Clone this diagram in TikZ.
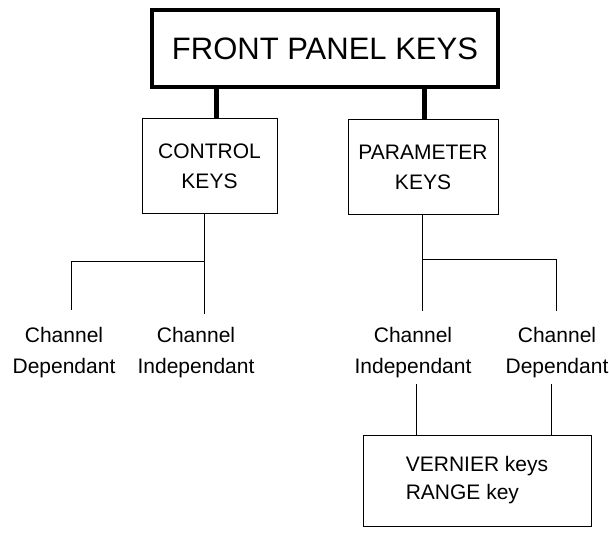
\documentclass[tikz,border=0pt]{standalone}
\usepackage{fontspec}
\setmainfont{Liberation Sans}
\begin{document}
\begin{tikzpicture}[x=1pt,y=-1pt,
	bigbox/.style={draw,line width=4.5pt,minimum width=346pt,minimum height=77pt,font=\fontsize{31}{36}\selectfont},
	keybox/.style={draw,line width=1pt,minimum height=95pt,align=center,font=\fontsize{21}{30}\selectfont},
	chlabel/.style={align=center,inner sep=0pt,font=\fontsize{21}{31}\selectfont},
	wire/.style={line width=1pt},
	heavy/.style={line width=5pt}]
	\useasboundingbox (0,0) rectangle (609,534);
	\node[bigbox] at (325,48.5) (front) {FRONT PANEL KEYS};
	\node[keybox,minimum width=135pt] at (209.5,166) (ctrl) {CONTROL\\KEYS};
	\node[keybox,minimum width=150pt] at (423,167) (param) {PARAMETER\\KEYS};
	\node[chlabel] at (64,353) (cdep) {Channel\\Dependant};
	\node[chlabel] at (196,353) (cind) {Channel\\Independant};
	\node[chlabel] at (413,353) (pind) {Channel\\Independant};
	\node[chlabel] at (557,353) (pdep) {Channel\\Dependant};
	\node[keybox,align=left,minimum width=228pt,minimum height=91pt,font=\fontsize{21}{28}\selectfont] at (477,480.5) (vern) {VERNIER keys\\RANGE key};
	\coordinate (lstem) at (216,0);
	\coordinate (rstem) at (424,0);
	\path[heavy] (front.south -| lstem) edge (ctrl.north -| lstem)
	(front.south -| rstem) edge (param.north -| rstem);
	\coordinate (cjoin) at (204,261);
	\coordinate (cend) at (204,314);
	\coordinate (cdrop) at (71,310);
	\draw[wire] (ctrl.south -| cjoin) -- (cend);
	\draw[wire] (cjoin) -| (cdrop);
	\coordinate (pjoin) at (422,259);
	\coordinate (pend) at (422,311);
	\coordinate (pdrop) at (556,311);
	\draw[wire] (param.south -| pjoin) -- (pend);
	\draw[wire] (pjoin) -| (pdrop);
	\coordinate (vleft) at (416,384);
	\coordinate (vright) at (551,384);
	\path[wire] (vleft) edge (vleft |- vern.north)
	(vright) edge (vright |- vern.north);
\end{tikzpicture}
\end{document}
